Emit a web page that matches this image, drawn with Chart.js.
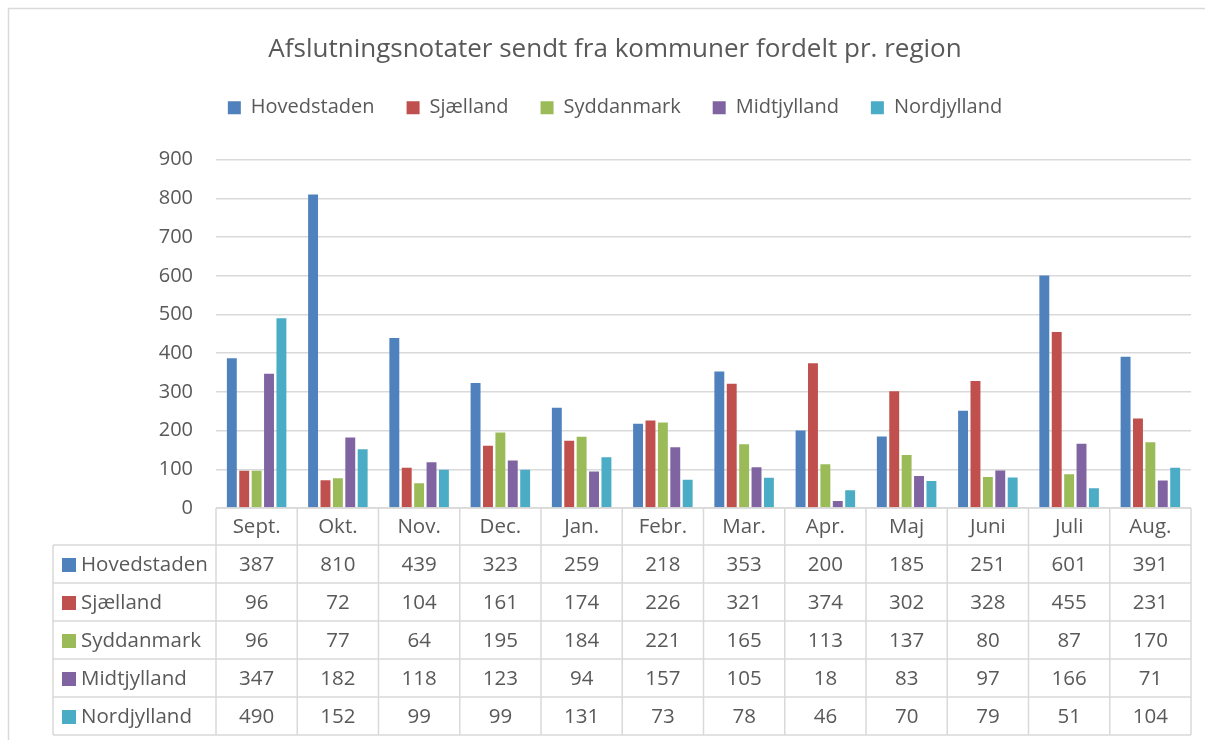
<!DOCTYPE html>
<html><head><meta charset="utf-8">
<script src="https://cdn.jsdelivr.net/npm/chart.js@4/dist/chart.umd.min.js"></script>
<style>html,body{margin:0;padding:0;background:#fff;overflow:hidden}canvas{display:block}</style>
</head><body>
<canvas id="c" width="1205" height="740"></canvas>
<script>
const months = ['Sept.','Okt.','Nov.','Dec.','Jan.','Febr.','Mar.','Apr.','Maj','Juni','Juli','Aug.'];
const seriesNames = ['Hovedstaden','Sjælland','Syddanmark','Midtjylland','Nordjylland'];
const hovedstaden = [387,810,439,323,259,218,353,200,185,251,601,391];
const sjaelland   = [96,72,104,161,174,226,321,374,302,328,455,231];
const syddanmark  = [96,77,64,195,184,221,165,113,137,80,87,170];
const midtjylland = [347,182,118,123,94,157,105,18,83,97,166,71];
const nordjylland = [490,152,99,99,131,73,78,46,70,79,51,104];
const seriesColors = ['#4F81BD','#C0504D','#9BBB59','#8064A2','#4BACC6'];
const titleText = 'Afslutningsnotater sendt fra kommuner fordelt pr. region';
const yMin = 0, yMax = 900, yStep = 100;

const seriesValues = [hovedstaden, sjaelland, syddanmark, midtjylland, nordjylland];
const FONT = "'Open Sans', 'Noto Sans', sans-serif";
const TXT = '#595959';
const GRID = '#D9D9D9';

const legendSpacer = {
  id: 'legendSpacer',
  afterInit(chart) {
    const lg = chart.legend;
    if (!lg) return;
    const f = lg.fit;
    lg.fit = function() { f.call(this); this.height += 32; };
  }
};

const frame = {
  id: 'frame',
  afterDraw(chart) {
    const ctx = chart.ctx;
    ctx.save();
    ctx.strokeStyle = GRID;
    ctx.lineWidth = 1.5;
    ctx.strokeRect(8.5, 8.5, 1230, 780);
    ctx.restore();
  }
};

const dataTable = {
  id: 'dataTable',
  afterDraw(chart) {
    const ctx = chart.ctx;
    const xs = chart.scales.x;
    const area = chart.chartArea;
    const top = area.bottom;
    const headerH = 37, rowH = 38;
    const labelLeft = 53;
    const n = months.length;
    const colW = (area.right - area.left) / n;
    const bottom = top + headerH + rowH * seriesNames.length;
    ctx.save();
    ctx.strokeStyle = GRID;
    ctx.lineWidth = 1.5;
    ctx.beginPath();
    ctx.moveTo(area.left, top); ctx.lineTo(area.right, top);
    for (let k = 0; k <= seriesNames.length; k++) {
      const y = top + headerH + k * rowH;
      ctx.moveTo(labelLeft, y); ctx.lineTo(area.right, y);
    }
    for (let i = 0; i < n; i++) {
      const xl = xs.getPixelForValue(i) - colW / 2;
      ctx.moveTo(xl, top); ctx.lineTo(xl, bottom);
    }
    const xr = xs.getPixelForValue(n - 1) + colW / 2;
    ctx.moveTo(xr, top); ctx.lineTo(xr, bottom);
    ctx.moveTo(labelLeft, top + headerH); ctx.lineTo(labelLeft, bottom);
    ctx.stroke();

    ctx.fillStyle = TXT;
    ctx.font = "20.5px " + FONT;
    ctx.textAlign = 'center';
    ctx.textBaseline = 'middle';
    months.forEach((m, i) => {
      ctx.fillText(m, xs.getPixelForValue(i), top + headerH / 2 + 1);
    });
    seriesNames.forEach((name, s) => {
      const yc = top + headerH + s * rowH + rowH / 2 + 1;
      ctx.fillStyle = seriesColors[s];
      ctx.fillRect(62, yc - 7, 14, 14);
      ctx.fillStyle = TXT;
      ctx.textAlign = 'left';
      ctx.fillText(name, 81, yc);
      ctx.textAlign = 'center';
      seriesValues[s].forEach((v, i) => {
        ctx.fillText(String(v), xs.getPixelForValue(i), yc);
      });
    });
    ctx.restore();
  }
};

new Chart(document.getElementById('c'), {
  type: 'bar',
  data: {
    labels: months,
    datasets: seriesNames.map((name, s) => ({
      label: name,
      data: seriesValues[s],
      backgroundColor: seriesColors[s],
      borderWidth: 0,
      categoryPercentage: 0.763,
      barPercentage: 0.8
    }))
  },
  options: {
    responsive: false,
    animation: false,
    layout: { padding: { left: 39, right: 14, top: 0, bottom: 0 } },
    plugins: {
      tooltip: { enabled: false },
      title: {
        display: true,
        text: titleText,
        color: TXT,
        font: { family: FONT, size: 26, weight: 'normal' },
        padding: { top: 33.5, bottom: 1 }
      },
      legend: {
        position: 'top',
        labels: {
          color: TXT,
          font: { family: FONT, size: 20 },
          boxWidth: 13,
          boxHeight: 13,
          padding: 32
        }
      }
    },
    scales: {
      x: {
        grid: { display: false },
        border: { display: false },
        ticks: { display: false },
        afterFit(scale) { scale.height = 232; }
      },
      y: {
        min: yMin, max: yMax,
        ticks: { stepSize: yStep, color: TXT, font: { family: FONT, size: 20 }, padding: 23 },
        grid: { color: GRID, lineWidth: 1.5, drawTicks: false },
        border: { display: false },
        afterFit(scale) { scale.width = 177; }
      }
    }
  },
  plugins: [legendSpacer, frame, dataTable]
});
</script>
</body></html>
